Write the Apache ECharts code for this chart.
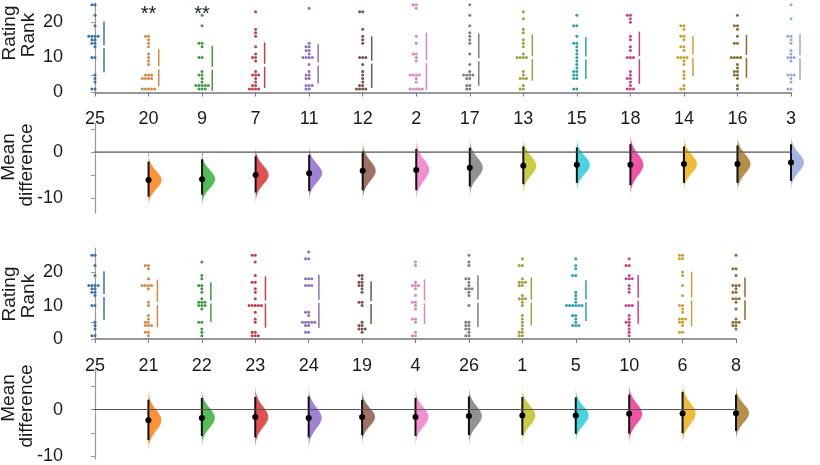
<!DOCTYPE html>
<html>
<head>
<meta charset="utf-8">
<script src="https://cdn.jsdelivr.net/npm/echarts@6/dist/echarts.min.js"></script>
<style>
html, body { margin: 0; padding: 0; background: #fff; }
#chart { width: 820px; height: 465px; }
</style>
</head>
<body>
<div id="chart"></div>
<script>
// categories (control first)
var topCats = ['25', '20', '9', '7', '11', '12', '2', '17', '13', '15', '18', '14', '16', '3']
var botCats = ['25', '21', '22', '23', '24', '19', '4', '26', '1', '5', '10', '6', '8']

// rating ranks per group
var topRanks = [
    [25, 25, 22, 19, 16, 16, 16, 16, 15, 15, 14, 14, 13, 10, 10, 5, 4, 3, 1, 1],
    [16, 16, 15, 14, 13, 11, 10, 9, 8, 5, 5, 5, 4, 4, 4, 4, 1, 1, 1, 1, 1],
    [22, 19, 14, 14, 13, 10, 10, 6, 5, 5, 4, 3, 2, 2, 2, 2, 2, 1, 1, 1],
    [23, 18, 17, 16, 13, 11, 10, 10, 9, 6, 5, 5, 5, 4, 3, 2, 2, 1, 1, 1, 1],
    [24, 14, 13, 13, 12, 12, 11, 10, 10, 10, 10, 8, 6, 5, 5, 4, 4, 2, 2, 2, 1, 1],
    [23, 23, 18, 16, 15, 14, 10, 10, 10, 8, 6, 5, 4, 3, 2, 2, 1, 1, 1, 1],
    [25, 25, 24, 16, 14, 11, 11, 10, 9, 5, 5, 5, 5, 4, 3, 1, 1, 1, 1, 1],
    [25, 22, 19, 17, 16, 15, 14, 11, 8, 6, 5, 5, 5, 5, 4, 4, 2, 2, 1, 1],
    [23, 21, 18, 17, 15, 14, 13, 11, 10, 10, 10, 10, 6, 5, 4, 4, 4, 2, 1, 1],
    [22, 19, 19, 16, 14, 14, 13, 12, 11, 10, 9, 8, 7, 6, 6, 5, 5, 4, 4, 1, 1],
    [22, 22, 21, 20, 16, 15, 13, 12, 10, 10, 10, 6, 5, 4, 4, 3, 2, 1, 1, 1],
    [19, 19, 18, 16, 16, 15, 13, 13, 12, 10, 10, 10, 10, 9, 8, 6, 5, 4, 2, 1, 1],
    [22, 19, 19, 18, 16, 14, 14, 10, 10, 10, 10, 8, 7, 6, 6, 5, 5, 4, 2, 1],
    [25, 21, 16, 16, 15, 14, 12, 11, 10, 10, 10, 9, 5, 5, 5, 4, 3, 1, 1]
]
var botRanks = [
    [25, 25, 22, 19, 16, 16, 16, 16, 15, 15, 14, 14, 13, 10, 10, 5, 4, 3, 1, 1],
    [22, 22, 21, 18, 16, 16, 16, 16, 15, 11, 10, 7, 6, 5, 5, 4, 4, 4, 2, 2, 1],
    [23, 19, 18, 16, 16, 15, 14, 12, 11, 11, 11, 10, 10, 10, 9, 5, 5, 3, 2, 1],
    [25, 25, 23, 19, 17, 17, 15, 14, 12, 10, 10, 10, 10, 10, 8, 6, 5, 2, 2, 1, 1, 1],
    [26, 24, 24, 18, 18, 18, 16, 16, 16, 8, 8, 7, 5, 5, 5, 5, 5, 4, 4, 2, 2],
    [19, 19, 18, 17, 17, 16, 16, 15, 14, 11, 11, 10, 5, 4, 4, 3, 3, 3, 2],
    [23, 22, 17, 16, 16, 16, 15, 13, 11, 11, 10, 9, 6, 6, 5, 2, 1, 1],
    [25, 23, 22, 18, 18, 17, 16, 15, 15, 15, 14, 13, 10, 5, 5, 4, 4, 3, 3, 2, 1, 1],
    [24, 22, 22, 18, 17, 17, 17, 16, 16, 13, 12, 12, 12, 11, 10, 7, 6, 5, 4, 3, 2, 2, 1, 1],
    [24, 22, 21, 19, 19, 14, 13, 12, 11, 10, 10, 10, 10, 10, 10, 7, 7, 6, 5, 4, 4, 4],
    [24, 22, 22, 19, 18, 18, 18, 16, 15, 14, 10, 10, 10, 7, 6, 5, 5, 4, 3, 2, 1],
    [25, 25, 24, 24, 20, 19, 16, 13, 10, 10, 9, 8, 6, 6, 6, 5, 5, 4, 2, 2],
    [25, 21, 21, 19, 16, 16, 16, 15, 14, 14, 12, 12, 12, 11, 9, 6, 5, 5, 5, 4, 4, 3]
]

// mean difference vs control with 95% CI
var topDiff = [null, -6.1, -5.9, -5.0, -4.6, -4.1, -3.9, -3.4, -3.0, -2.8, -2.8, -2.6, -2.6, -2.3]
var topCiLow = [null, -9.7, -9.3, -8.8, -8.5, -8.3, -8.3, -7.5, -7.0, -6.7, -7.2, -6.7, -6.7, -6.3]
var topCiHigh = [null, -2.1, -1.6, -0.9, -0.65, 0.1, 0.65, 0.9, 1.2, 1.0, 1.7, 1.2, 1.4, 1.7]
var botDiff = [null, -2.3, -1.8, -1.6, -1.8, -1.6, -1.6, -1.4, -1.3, -1.3, -0.9, -0.85, -0.8]
var botCiLow = [null, -6.6, -5.7, -6.0, -6.0, -5.5, -5.7, -5.5, -5.5, -5.2, -5.2, -5.1, -4.6]
var botCiHigh = [null, 2.1, 2.5, 2.7, 2.8, 2.1, 2.5, 2.8, 2.7, 2.6, 3.2, 3.8, 3.2]

var topSig = ['', '**', '**', '', '', '', '', '', '', '', '', '', '', '']

var swarmColors = ['#3b73a5', '#d08a44', '#3e9a3e', '#c0404a', '#8c70b8', '#7a5048', '#d886c0',
    '#7f7f7f', '#9ea040', '#2ea0b0', '#c84088', '#c8a030', '#8a6a30', '#98a8d0']
var violinColors = ['#4a8acb', '#ff8c2a', '#4cb84c', '#e04848', '#9c7ad6', '#9a6a5c', '#f08ad0',
    '#8c8c8c', '#c8c83c', '#40d0e0', '#ee4aa0', '#eeb830', '#b08840', '#a0b0e0']

var FONT = 'Liberation Sans, Arial, sans-serif'
var VIOLIN_W = 13

function rgba (hex, a) {
    var n = parseInt(hex.slice(1), 16)
    return 'rgba(' + (n >> 16) + ',' + ((n >> 8) & 255) + ',' + (n & 255) + ',' + a + ')'
}

// seaborn-like beeswarm: offsets in px
function beeswarm (vals, ppu, d) {
    var sorted = vals.slice().sort(function (a, b) { return a - b })
    var placed = []
    sorted.forEach(function (v) {
        var y = v * ppu
        var cands = [0]
        placed.forEach(function (p) {
            var dy = Math.abs(p.y - y)
            if (dy < d) {
                var dx = Math.sqrt(d * d - dy * dy)
                cands.push(p.x - dx, p.x + dx)
            }
        })
        cands.sort(function (a, b) { return Math.abs(a) - Math.abs(b) })
        var x = cands.find(function (c) {
            return placed.every(function (p) {
                return (p.x - c) * (p.x - c) + (p.y - y) * (p.y - y) >= d * d - 0.01
            })
        })
        placed.push({ v: v, x: x, y: y })
    })
    return placed
}

function renderDot (params, api) {
    var i = api.value(0)
    var p = api.coord([i, api.value(1)])
    return {
        type: 'circle',
        shape: { cx: p[0] + api.value(2), cy: p[1], r: 1.5 },
        style: { fill: swarmColors[i] }
    }
}

function renderGapLine (params, api) {
    var i = api.value(0)
    var m = api.value(1)
    var sd = api.value(2)
    var pt = api.coord([i, m + sd])
    var pm = api.coord([i, m])
    var pb = api.coord([i, m - sd])
    var x = pt[0] + api.value(3)
    var style = { stroke: swarmColors[i], lineWidth: 1.5 }
    return {
        type: 'group',
        children: [
            { type: 'line', shape: { x1: x, y1: pt[1], x2: x, y2: pm[1] - 1.5 }, style: style },
            { type: 'line', shape: { x1: x, y1: pm[1] + 1.5, x2: x, y2: pb[1] }, style: style }
        ]
    }
}

function renderViolin (params, api) {
    var i = api.value(0)
    var diff = api.value(1)
    var lo = api.value(2)
    var hi = api.value(3)
    var sigma = (hi - lo) / 3.92
    var base = api.coord([i, diff])
    var pts = []
    var steps = 50
    for (var k = 0; k <= steps; k++) {
        var t = -3.5 * sigma + 7 * sigma * k / steps
        var p = api.coord([i, diff + t])
        pts.push([base[0] + VIOLIN_W * Math.exp(-t * t / (2 * sigma * sigma)), p[1]])
    }
    pts.push([base[0], pts[pts.length - 1][1]])
    pts.push([base[0], pts[0][1]])
    var col = violinColors[i]
    var pLo = api.coord([i, lo])
    var pHi = api.coord([i, hi])
    return {
        type: 'group',
        children: [
            {
                type: 'polygon',
                shape: { points: pts },
                style: {
                    fill: new echarts.graphic.LinearGradient(0, 0, 0, 1, [
                        { offset: 0, color: rgba(col, 0.05) },
                        { offset: 0.2, color: rgba(col, 0.95) },
                        { offset: 0.8, color: rgba(col, 0.95) },
                        { offset: 1, color: rgba(col, 0.05) }
                    ])
                }
            },
            { type: 'line', shape: { x1: base[0], y1: pLo[1], x2: base[0], y2: pHi[1] }, style: { stroke: '#111', lineWidth: 2 } },
            { type: 'circle', shape: { cx: base[0], cy: base[1], r: 3 }, style: { fill: '#000' } }
        ]
    }
}

function renderSig (params, api) {
    var p = api.coord([api.value(0), api.value(1)])
    return {
        type: 'text',
        x: p[0],
        y: p[1],
        style: { text: topSig[api.value(0)], font: '20px ' + FONT, fill: '#222', align: 'center', verticalAlign: 'top' }
    }
}

function mean (a) {
    return a.reduce(function (s, v) { return s + v }, 0) / a.length
}
function sd (a) {
    var m = mean(a)
    return Math.sqrt(a.reduce(function (s, v) { return s + (v - m) * (v - m) }, 0) / (a.length - 1))
}

// build all series for one panel pair (swarm grid g, delta grid g+1)
function panelSeries (g, cats, ranks, diff, ciLow, ciHigh, ppu) {
    var dots = []
    var gaps = []
    ranks.forEach(function (vals, i) {
        var sw = beeswarm(vals, ppu, 3.1)
        var maxX = 0
        sw.forEach(function (p) {
            dots.push([i, p.v, p.x])
            maxX = Math.max(maxX, p.x)
        })
        gaps.push([i, mean(vals), sd(vals), Math.max(9, maxX + 4)])
    })
    var violins = []
    diff.forEach(function (d, i) {
        if (d !== null) violins.push([i, d, ciLow[i], ciHigh[i]])
    })
    return [
        { type: 'custom', xAxisIndex: g, yAxisIndex: g, renderItem: renderDot, data: dots, clip: false, encode: { x: 0, y: 1 } },
        { type: 'custom', xAxisIndex: g, yAxisIndex: g, renderItem: renderGapLine, data: gaps, clip: false, encode: { x: 0, y: 1 } },
        {
            type: 'line', xAxisIndex: g + 1, yAxisIndex: g + 1, clip: false, symbol: 'none', silent: true,
            data: [[-0.5, 0], [cats.length - 0.5, 0]], lineStyle: { color: '#555', width: 1 }
        },
        { type: 'custom', xAxisIndex: g + 1, yAxisIndex: g + 1, renderItem: renderViolin, data: violins, clip: false, encode: { x: 0, y: 1 } }
    ]
}

function swarmX (g, cats) {
    return {
        type: 'value', gridIndex: g, min: 0, max: cats.length - 1, interval: 1,
        axisLine: { lineStyle: { color: '#777', width: 1.5 } },
        axisTick: { length: 4, lineStyle: { color: '#777' } },
        axisLabel: {
            fontSize: 18, color: '#1a1a1a', margin: 18, fontFamily: FONT,
            formatter: function (v) { return cats[v] }
        },
        splitLine: { show: false }
    }
}
function deltaX (g, cats) {
    return {
        type: 'value', gridIndex: g, min: 0, max: cats.length - 1, interval: 1,
        axisLine: { lineStyle: { color: '#aaa', width: 1.2 } },
        axisTick: { length: 4, lineStyle: { color: '#aaa' } },
        axisLabel: { show: false },
        splitLine: { show: false }
    }
}
function yAx (g, min, max, ticks, labels) {
    return {
        type: 'value', gridIndex: g, min: min, max: max, offset: 27,
        axisLine: { show: true, lineStyle: { color: '#999', width: 1.2 } },
        axisTick: { show: true, length: 4, customValues: ticks, lineStyle: { color: '#999' } },
        axisLabel: { customValues: labels, fontSize: 18, color: '#1a1a1a', margin: 5, fontFamily: FONT },
        splitLine: { show: false }
    }
}

function vText (text, x, y) {
    return {
        type: 'text', x: x, y: y, rotation: Math.PI / 2,
        style: { text: text, font: '19px ' + FONT, fill: '#1a1a1a', align: 'center', verticalAlign: 'middle' }
    }
}

var chart = echarts.init(document.getElementById('chart'))

var series = []
    .concat(panelSeries(0, topCats, topRanks, topDiff, topCiLow, topCiHigh, 89.5 / 25.5))
    .concat(panelSeries(2, botCats, botRanks, botDiff, botCiLow, botCiHigh, 91 / 27.2))

var sigData = []
topSig.forEach(function (s, i) {
    if (s) sigData.push([i, 25])
})
series.push({ type: 'custom', xAxisIndex: 0, yAxisIndex: 0, renderItem: renderSig, data: sigData, clip: false, encode: { x: 0, y: 1 } })

var option = {
    animation: false,
    textStyle: { fontFamily: FONT },
    grid: [
        { left: 95, right: 29, top: 3, height: 89.5 },
        { left: 95, right: 29, top: 123, height: 90 },
        { left: 95, right: 84, top: 248, height: 91 },
        { left: 95, right: 84, top: 368, height: 92 }
    ],
    xAxis: [swarmX(0, topCats), deltaX(1, topCats), swarmX(2, botCats), deltaX(3, botCats)],
    yAxis: [
        yAx(0, 0, 25.5, [0, 5, 10, 15, 20, 25], [0, 10, 20]),
        yAx(1, -13.26, 6.3, [-10, -5, 0, 5], [-10, 0]),
        yAx(2, 0, 27.2, [0, 5, 10, 15, 20, 25], [0, 10, 20]),
        yAx(3, -10.64, 8.94, [-10, -5, 0, 5], [-10, 0])
    ],
    graphic: [
        vText('Rating', 10, 33),
        vText('Rank', 29, 35),
        vText('Mean', 9, 157),
        vText('difference', 27, 165),
        vText('Rating', 10, 294),
        vText('Rank', 29, 296),
        vText('Mean', 9, 398),
        vText('difference', 27, 406)
    ],
    series: series
}
chart.setOption(option)
</script>
</body>
</html>
